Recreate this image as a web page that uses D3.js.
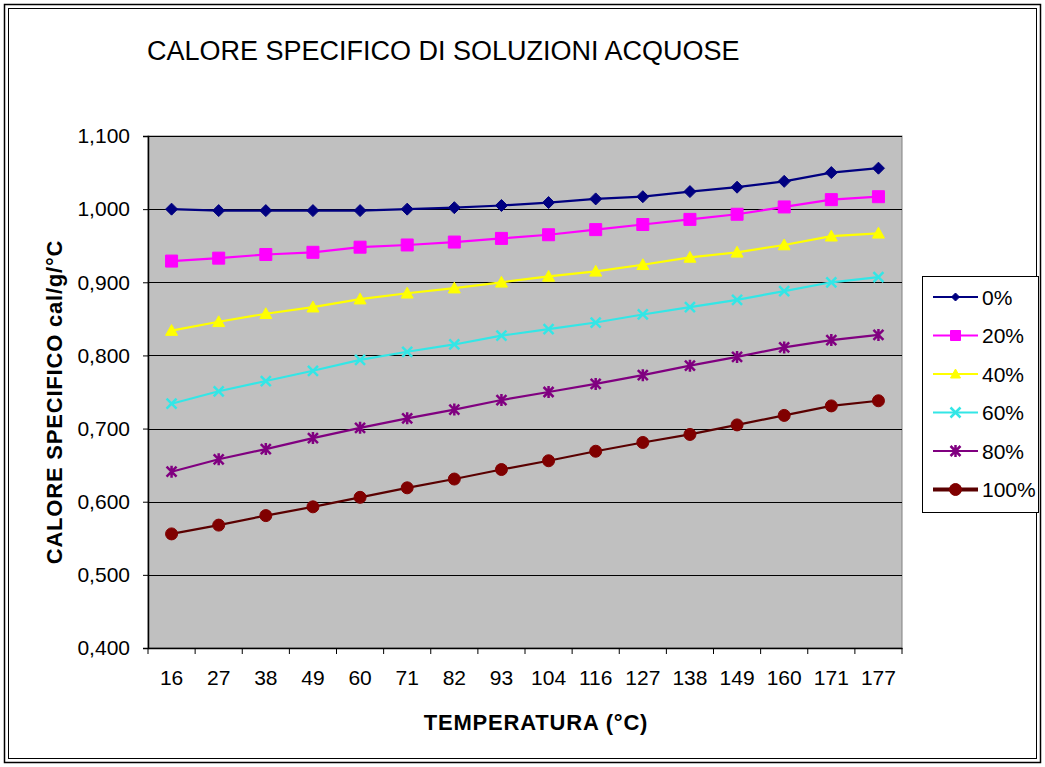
<!DOCTYPE html>
<html><head><meta charset="utf-8">
<script src="https://cdn.jsdelivr.net/npm/d3@7"></script>
<style>body{margin:0;background:#fff}svg{display:block;font-family:Arial,"Liberation Sans",sans-serif}</style>
</head><body><svg id="c" width="1045" height="767"></svg>
<script>
const temperatures = ["16","27","38","49","60","71","82","93","104","116","127","138","149","160","171","177"];
const seriesNames = ["0%","20%","40%","60%","80%","100%"];
const s0 = [1.000,0.998,0.998,0.998,0.998,1.000,1.002,1.005,1.009,1.014,1.017,1.024,1.030,1.038,1.050,1.056];
const s20 = [0.929,0.933,0.938,0.941,0.948,0.951,0.955,0.960,0.965,0.972,0.979,0.986,0.993,1.003,1.013,1.017];
const s40 = [0.834,0.846,0.857,0.866,0.877,0.885,0.892,0.900,0.908,0.915,0.924,0.934,0.941,0.951,0.963,0.967];
const s60 = [0.734,0.751,0.765,0.779,0.794,0.805,0.815,0.827,0.836,0.845,0.856,0.866,0.876,0.888,0.900,0.907];
const s80 = [0.641,0.658,0.672,0.687,0.701,0.714,0.726,0.739,0.750,0.761,0.773,0.786,0.798,0.811,0.821,0.828];
const s100 = [0.556,0.568,0.581,0.593,0.606,0.619,0.631,0.644,0.656,0.669,0.681,0.692,0.705,0.718,0.731,0.738];
const yTicks = [0.4,0.5,0.6,0.7,0.8,0.9,1.0,1.1];
const allSeries = [s0,s20,s40,s60,s80,s100];
const colors = ["#000080","#FF00FF","#FFFF00","#33E6E6","#800080","#800000"];
const lineColors = ["#000080","#FF00FF","#FFFF00","#33E6E6","#800080","#5a0000"];
const symbols = ["diamond","square","triangle","x","asterisk","circle"];

const FONT = "Arial, 'Liberation Sans', sans-serif";
const svg = d3.select("#c");
svg.append("rect").attr("width",1045).attr("height",767).attr("fill","#fff");
// double border
svg.append("rect").attr("x",4.5).attr("y",4.5).attr("width",1036).attr("height",758).attr("fill","none").attr("stroke","#000").attr("stroke-width",1.5);
svg.append("rect").attr("x",8.5).attr("y",8.5).attr("width",1028).attr("height",750).attr("fill","none").attr("stroke","#000").attr("stroke-width",1);

const L=148,R=902,T=136,B=648;
const x = d3.scaleBand().domain(temperatures).range([L,R]);
const y = d3.scaleLinear().domain([0.4,1.1]).range([B,T]);
const loc = d3.formatLocale({decimal:",",thousands:".",grouping:[3],currency:["","€"]});
const fmt = loc.format(".3f");

svg.append("rect").attr("x",L).attr("y",T).attr("width",R-L).attr("height",B-T).attr("fill","#C0C0C0").attr("stroke","#808080").attr("stroke-width",1);

// gridlines
svg.append("g").selectAll("line").data(yTicks.filter(v=>v>0.4)).join("line")
  .attr("x1",L).attr("x2",R).attr("y1",d=>Math.round(y(d))+0.5).attr("y2",d=>Math.round(y(d))+0.5)
  .attr("stroke","#000").attr("stroke-width",1);

// y axis
const ya = svg.append("g").attr("transform",`translate(${L},0)`)
  .call(d3.axisLeft(y).tickValues(yTicks).tickFormat(fmt).tickSize(5).tickPadding(13));
ya.selectAll("text").attr("font-size",21).attr("fill","#000").attr("font-family",FONT);
ya.select(".domain").attr("stroke","#000").attr("stroke-width",1.5);
ya.selectAll(".tick line").attr("stroke","#000");

// x axis
const xa = svg.append("g").attr("transform",`translate(0,${B})`)
  .call(d3.axisBottom(x).tickSize(0).tickPadding(22));
xa.selectAll("text").attr("font-size",21).attr("fill","#000").attr("font-family",FONT);
xa.select(".domain").attr("stroke","#000").attr("stroke-width",1.5);
const bounds = temperatures.map(t=>x(t)).concat([R]);
xa.selectAll(".btick").data(bounds).join("line").attr("class","btick")
  .attr("x1",d=>d).attr("x2",d=>d).attr("y1",0).attr("y2",6).attr("stroke","#000");

function symPath(type, s){
  if(type==="diamond") return `M0,${-s}L${s},0L0,${s}L${-s},0Z`;
  if(type==="square") return `M${-s},${-s}H${s}V${s}H${-s}Z`;
  if(type==="triangle") return `M0,${-s}L${s},${s*0.8}L${-s},${s*0.8}Z`;
  if(type==="x") return `M${-s},${-s}L${s},${s}M${-s},${s}L${s},${-s}`;
  if(type==="asterisk") return `M${-s},${-s}L${s},${s}M${-s},${s}L${s},${-s}M0,${-s*1.2}V${s*1.2}`;
  return "";
}
function drawMarker(g, type, color, cx, cy, s){
  if(type==="circle"){
    g.append("circle").attr("cx",cx).attr("cy",cy).attr("r",s).attr("fill",color).attr("stroke",color);
  } else if(type==="x"||type==="asterisk"){
    g.append("path").attr("d",symPath(type,s)).attr("transform",`translate(${cx},${cy})`).attr("fill","none").attr("stroke",color).attr("stroke-width",2.5);
  } else {
    g.append("path").attr("d",symPath(type,s)).attr("transform",`translate(${cx},${cy})`).attr("fill",color).attr("stroke",color);
  }
}
const xc = t => x(t)+x.bandwidth()/2;
const line = d3.line().x((d,i)=>xc(temperatures[i])).y(d=>y(d));
const sizes = [6,6,6,5,5,6];
allSeries.forEach((vals,k)=>{
  const g = svg.append("g");
  g.append("path").attr("d",line(vals)).attr("fill","none").attr("stroke",lineColors[k]).attr("stroke-width",2.2);
  vals.forEach((v,i)=>drawMarker(g,symbols[k],colors[k],xc(temperatures[i]),y(v),sizes[k]));
});

// title
svg.append("text").attr("x",147).attr("y",60).attr("font-size",27).attr("fill","#000").text("CALORE SPECIFICO DI SOLUZIONI ACQUOSE");
// axis titles
svg.append("text").attr("x",536).attr("y",730).attr("text-anchor","middle").attr("font-size",22).attr("font-weight","bold").attr("letter-spacing",0.8).text("TEMPERATURA (°C)");
svg.append("text").attr("transform","translate(62,402) rotate(-90)").attr("text-anchor","middle").attr("font-size",22).attr("font-weight","bold").attr("letter-spacing",0.8).text("CALORE SPECIFICO cal/g/°C");

// legend
const lg = svg.append("g");
lg.append("rect").attr("x",922.5).attr("y",276.5).attr("width",116).attr("height",236).attr("fill","#fff").attr("stroke","#000");
const lsizes = [4,5,5,5,5,6];
seriesNames.forEach((n,k)=>{
  const cy = 297 + k*38.5;
  lg.append("line").attr("x1",933).attr("x2",978).attr("y1",cy).attr("y2",cy).attr("stroke",lineColors[k]).attr("stroke-width",k===5?4:2);
  drawMarker(lg,symbols[k],colors[k],955.5,cy,lsizes[k]);
  lg.append("text").attr("x",982).attr("y",cy+7.5).attr("font-size",21).attr("fill","#000").attr("font-family",FONT).text(n);
});
</script></body></html>
